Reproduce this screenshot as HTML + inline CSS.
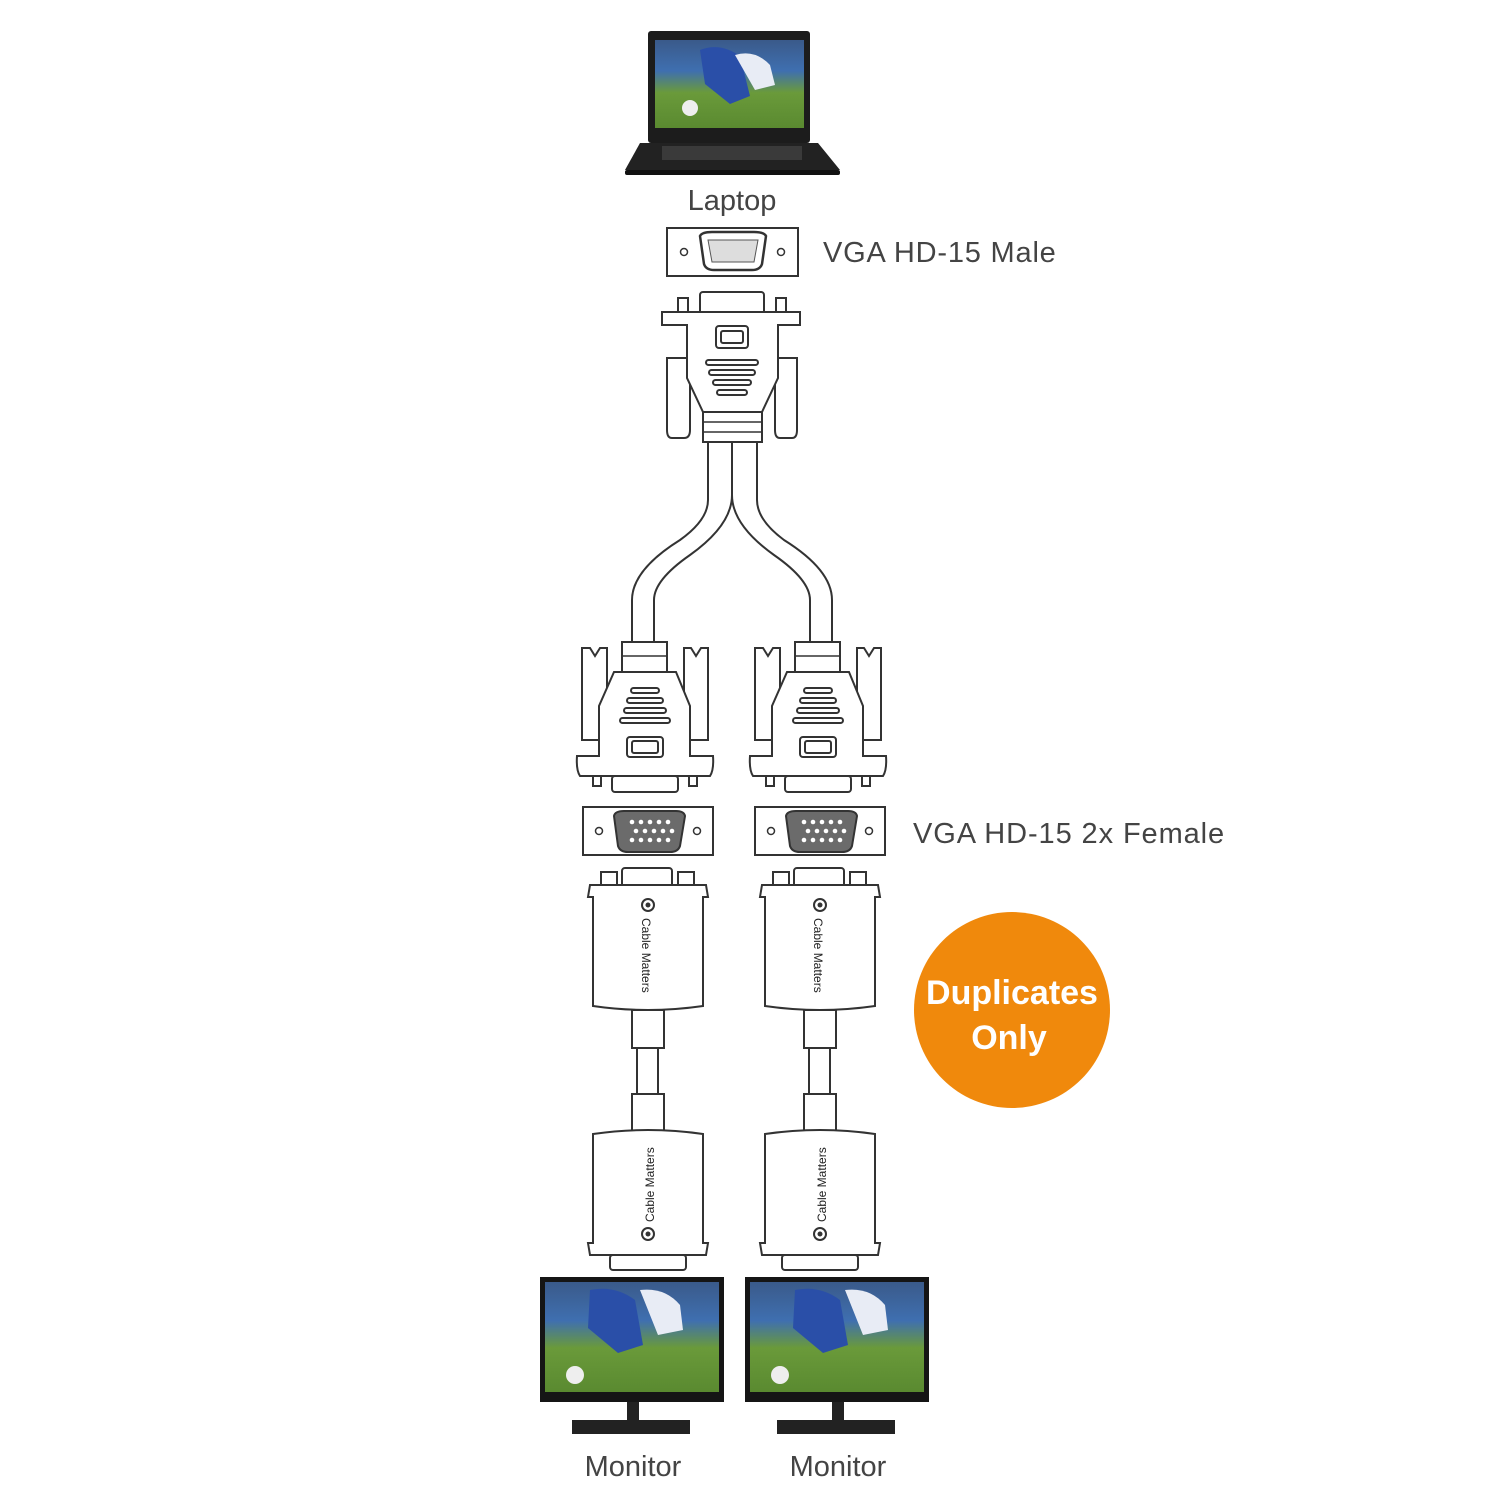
<!DOCTYPE html>
<html><head><style>
html,body{margin:0;padding:0;background:#fff;width:1500px;height:1500px;overflow:hidden}
svg{display:block}
text{font-family:"Liberation Sans",sans-serif}
</style></head><body>
<svg width="1500" height="1500" viewBox="0 0 1500 1500" xmlns="http://www.w3.org/2000/svg">
<defs>
<linearGradient id="scr" x1="0" y1="0" x2="0" y2="1">
<stop offset="0" stop-color="#3a5a8a"/><stop offset="0.35" stop-color="#3f6fb0"/><stop offset="0.6" stop-color="#6a9a3a"/><stop offset="1" stop-color="#5a8a30"/></linearGradient>
</defs>

<!-- Laptop -->
<rect x="648" y="31" width="162" height="112" rx="3" fill="#1c1c1c"/>
<rect x="655" y="40" width="149" height="88" fill="url(#scr)"/>
<ellipse cx="690" cy="108" rx="8" ry="8" fill="#eee"/>
<path d="M700 50 q20 -8 40 6 l10 40 -20 8 -25 -20z" fill="#2a4fa8"/>
<path d="M735 55 q20 -6 35 10 l5 20 -20 5z" fill="#e8ecf5"/>
<path d="M640 143 L818 143 L840 170 L625 170 Z" fill="#222"/>
<rect x="662" y="146" width="140" height="14" fill="#3a3a3a"/>
<rect x="625" y="170" width="215" height="5" rx="2" fill="#111"/>
<text x="732" y="210" font-size="29" fill="#444" text-anchor="middle">Laptop</text>

<!-- Male port plate -->
<rect x="667" y="228" width="131" height="48" fill="#fff" stroke="#333" stroke-width="2"/>
<circle cx="684" cy="252" r="3.5" fill="#fff" stroke="#333" stroke-width="1.5"/>
<circle cx="781" cy="252" r="3.5" fill="#fff" stroke="#333" stroke-width="1.5"/>
<path d="M700 236 Q702 232 712 232 L754 232 Q764 232 766 236 L762 264 Q760 270 752 270 L714 270 Q706 270 704 264 Z" fill="#fff" stroke="#333" stroke-width="2.5"/>
<path d="M708 240 L758 240 L754 262 L712 262 Z" fill="#ddd" stroke="#555" stroke-width="1"/>
<text x="823" y="262" font-size="29" fill="#444" letter-spacing="0.8">VGA HD-15 Male</text>

<!-- Top male connector -->
<g fill="#fff" stroke="#333" stroke-width="2">
<rect x="700" y="292" width="64" height="22" rx="3"/>
<rect x="678" y="298" width="10" height="14"/><rect x="776" y="298" width="10" height="14"/>
<path d="M667 358 L690 358 L690 430 Q690 438 684 438 L672 438 Q667 438 667 430 Z"/>
<path d="M775 358 L797 358 L797 430 Q797 438 792 438 L780 438 Q775 438 775 430 Z"/>
<path d="M662 312 L800 312 L800 325 L778 325 L778 378 L762 412 L703 412 L687 378 L687 325 L662 325 Z"/>
<rect x="703" y="412" width="59" height="30"/>
<rect x="716" y="326" width="32" height="22" rx="3"/>
<rect x="721" y="331" width="22" height="12" rx="2"/>
<rect x="706" y="360" width="52" height="5" rx="2.5"/>
<rect x="709" y="370" width="46" height="5" rx="2.5"/>
<rect x="713" y="380" width="38" height="5" rx="2.5"/>
<rect x="717" y="390" width="30" height="5" rx="2.5"/>
</g>
<line x1="703" y1="422" x2="762" y2="422" stroke="#333" stroke-width="1.5"/>
<line x1="703" y1="432" x2="762" y2="432" stroke="#333" stroke-width="1.5"/>

<!-- Y cable -->
<path d="M708 442 L708 500 Q708 520 680 540 Q632 570 632 600 L632 645 L654 645 L654 600 Q654 580 690 555 Q732 525 732 495 Q732 525 774 555 Q810 580 810 600 L810 645 L832 645 L832 600 Q832 570 784 540 Q757 520 757 500 L757 442 Z" fill="#fff" stroke="#333" stroke-width="2"/>
<line x1="732" y1="442" x2="732" y2="495" stroke="#333" stroke-width="2"/>

<!-- Two shell connectors -->
<g id="shell" fill="#fff" stroke="#333" stroke-width="2">
<path d="M582 648 L590 648 L595 656 L600 648 L607 648 L607 740 L582 740 Z"/>
<path d="M684 648 L691 648 L696 656 L701 648 L708 648 L708 740 L684 740 Z"/>
<rect x="622" y="642" width="45" height="30"/>
<path d="M614 672 L676 672 L690 706 L690 756 L713 756 Q714 770 710 776 L580 776 Q576 770 577 756 L599 756 L599 706 Z"/>
<rect x="612" y="776" width="66" height="16" rx="3"/>
<rect x="593" y="776" width="8" height="10"/><rect x="689" y="776" width="8" height="10"/>
<rect x="627" y="737" width="36" height="20" rx="3"/>
<rect x="632" y="741" width="26" height="12" rx="2"/>
<rect x="631" y="688" width="28" height="5" rx="2.5"/>
<rect x="627" y="698" width="36" height="5" rx="2.5"/>
<rect x="624" y="708" width="42" height="5" rx="2.5"/>
<rect x="620" y="718" width="50" height="5" rx="2.5"/>
</g>
<line x1="622" y1="656" x2="667" y2="656" stroke="#333" stroke-width="1.5"/>
<use href="#shell" x="173"/>
<line x1="795" y1="656" x2="840" y2="656" stroke="#333" stroke-width="1.5"/>

<!-- Female port plates -->
<g id="fplate">
<rect x="583" y="807" width="130" height="48" fill="#fff" stroke="#333" stroke-width="2"/>
<circle cx="599" cy="831" r="3.5" fill="#fff" stroke="#333" stroke-width="1.5"/>
<circle cx="697" cy="831" r="3.5" fill="#fff" stroke="#333" stroke-width="1.5"/>
<path d="M614 816 Q615 811 624 811 L676 811 Q684 811 685 816 L680 846 Q678 852 670 852 L628 852 Q620 852 618 846 Z" fill="#6b6b6b" stroke="#333" stroke-width="2"/>
<g fill="#fff"><circle cx="632" cy="822" r="2.3"/><circle cx="641" cy="822" r="2.3"/><circle cx="650" cy="822" r="2.3"/><circle cx="659" cy="822" r="2.3"/><circle cx="668" cy="822" r="2.3"/>
<circle cx="636" cy="831" r="2.3"/><circle cx="645" cy="831" r="2.3"/><circle cx="654" cy="831" r="2.3"/><circle cx="663" cy="831" r="2.3"/><circle cx="672" cy="831" r="2.3"/>
<circle cx="632" cy="840" r="2.3"/><circle cx="641" cy="840" r="2.3"/><circle cx="650" cy="840" r="2.3"/><circle cx="659" cy="840" r="2.3"/><circle cx="668" cy="840" r="2.3"/></g>
</g>
<use href="#fplate" x="172"/>
<text x="913" y="843" font-size="29" fill="#444" letter-spacing="0.9">VGA HD-15 2x Female</text>

<!-- Cable Matters extension -->
<g id="ext">
<g fill="#fff" stroke="#333" stroke-width="2">
<rect x="622" y="868" width="50" height="20" rx="3"/>
<rect x="601" y="872" width="16" height="14"/><rect x="678" y="872" width="16" height="14"/>
<path d="M590 885 L706 885 L708 897 L703 897 L703 1006 Q648 1014 593 1006 L593 897 L588 897 Z"/>
<rect x="632" y="1010" width="32" height="38"/>
<rect x="637" y="1048" width="21" height="46"/>
<rect x="632" y="1094" width="32" height="38"/>
<path d="M593 1134 Q648 1126 703 1134 L703 1243 L708 1243 L706 1255 L590 1255 L588 1243 L593 1243 Z"/>
<rect x="610" y="1255" width="76" height="15" rx="3"/>
</g>
<circle cx="648" cy="905" r="6" fill="none" stroke="#333" stroke-width="2"/><circle cx="648" cy="905" r="2.5" fill="#333"/>
<text transform="translate(642,918) rotate(90)" font-size="12" fill="#222">Cable Matters</text>
<circle cx="648" cy="1234" r="6" fill="none" stroke="#333" stroke-width="2"/><circle cx="648" cy="1234" r="2.5" fill="#333"/>
<text transform="translate(654,1222) rotate(-90)" font-size="12" fill="#222">Cable Matters</text>
</g>
<use href="#ext" x="172"/>

<!-- Monitors -->
<g id="mon">
<rect x="540" y="1277" width="184" height="125" fill="#151515"/>
<rect x="545" y="1282" width="174" height="110" fill="url(#scr)"/>
<circle cx="575" cy="1375" r="9" fill="#eee"/>
<path d="M590 1290 q25 -5 45 10 l8 45 -25 8 -30 -25z" fill="#2a4fa8"/>
<path d="M640 1290 q25 -3 40 15 l3 25 -25 5z" fill="#e8ecf5"/>
<rect x="627" y="1402" width="12" height="20" fill="#222"/>
<rect x="572" y="1420" width="118" height="14" fill="#222"/>
</g>
<use href="#mon" x="205"/>
<text x="633" y="1476" font-size="29" fill="#444" text-anchor="middle">Monitor</text>
<text x="838" y="1476" font-size="29" fill="#444" text-anchor="middle">Monitor</text>

<!-- Badge -->
<circle cx="1012" cy="1010" r="98" fill="#f0890c"/>
<text x="1012" y="1004" font-size="34" font-weight="bold" fill="#fff" text-anchor="middle">Duplicates</text>
<text x="1009" y="1049" font-size="34" font-weight="bold" fill="#fff" text-anchor="middle">Only</text>
</svg>
</body></html>
